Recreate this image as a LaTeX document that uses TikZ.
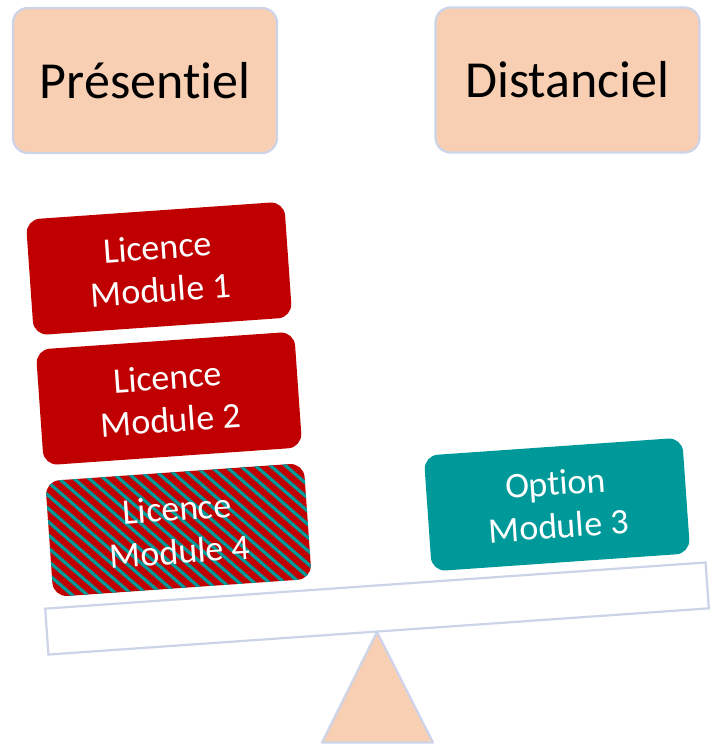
\documentclass[tikz,border=0pt]{standalone}
\usepackage{fontspec}
\setmainfont{Carlito}[Ligatures={NoCommon}]
\definecolor{peach}{HTML}{F8CFB3}
\definecolor{rim}{HTML}{CDD4EA}
\definecolor{dred}{HTML}{C00000}
\definecolor{dteal}{HTML}{009999}
\begin{document}
\begin{tikzpicture}[x=1bp,y=-1bp,
 header/.style={draw=rim, line width=2.2bp, fill=peach, rounded corners=15bp, minimum width=264bp, minimum height=145bp, inner sep=0pt, font=\fontsize{52bp}{62bp}\selectfont},
 module/.style={rotate=4, rounded corners=14bp, minimum width=259bp, minimum height=116bp, inner sep=0pt, text=white, align=center, font=\fontsize{36bp}{43bp}\selectfont},
 licence/.style={module, fill=dred},
 option/.style={module, fill=dteal},
 mixed/.style={module, fill=dred, path picture={
   \foreach \k in {-30,...,30}
     \draw[dteal, line width=3.3bp]
       ([xshift=\k*14bp]path picture bounding box.center) ++(-170bp,170bp) -- ++(340bp,-340bp);}},
 plankbox/.style={draw=rim, line width=2.2bp, fill=white, rotate=4, minimum width=662bp, minimum height=46bp, inner sep=0pt},
 fulcrum/.style={draw=rim, line width=2.2bp, fill=peach, line join=round}]
\useasboundingbox (0,0) rectangle (713,744);
\node[header] (pres) at (145,80.5) {Présentiel};
\node[header] (dist) at (567.5,80) {Distanciel};
\node[licence] (m1) at (159,268.5) {Licence\\Module 1};
\node[licence] (m2) at (169,398.5) {Licence\\Module 2};
\node[mixed] (m4) at (178.5,530) {Licence\\Module 4};
\node[option] (m3) at (557,504.5) {Option\\Module 3};
\coordinate (baseL) at (322,742.5);
\coordinate (baseR) at (433,742.5);
\coordinate (apex) at (377,632);
\draw[fulcrum] (apex) -- (baseL) -- (baseR) -- cycle;
\node[plankbox] (plank) at (377,608.5) {};
\end{tikzpicture}
\end{document}
